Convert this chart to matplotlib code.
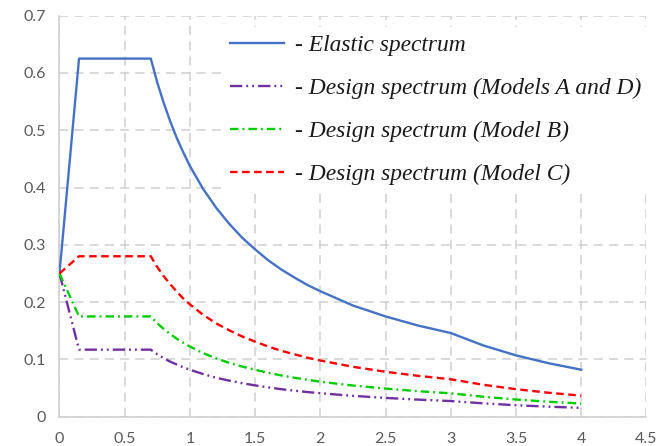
import matplotlib
matplotlib.use("Agg")
import matplotlib.pyplot as plt

# Period T (s)
T = [0.0, 0.15, 0.7, 0.75, 0.8, 0.85, 0.9, 0.95, 1.0, 1.1, 1.2, 1.3, 1.4,
     1.5, 1.6, 1.7, 1.8, 1.9, 2.0, 2.25, 2.5, 2.75, 3.0, 3.25, 3.5, 3.75, 4.0]

elastic = [0.25, 0.625, 0.625, 0.583, 0.547, 0.515, 0.486, 0.461, 0.4375,
           0.398, 0.365, 0.337, 0.3125, 0.292, 0.273, 0.257, 0.243, 0.230,
           0.219, 0.194, 0.175, 0.159, 0.146, 0.1243, 0.107, 0.0933, 0.082]
model_ad = [0.25, 0.117, 0.117, 0.109, 0.102, 0.096, 0.091, 0.086, 0.082,
            0.0745, 0.068, 0.063, 0.0585, 0.0546, 0.0512, 0.048, 0.0455,
            0.043, 0.041, 0.0364, 0.0328, 0.0298, 0.0273, 0.0233, 0.020,
            0.0175, 0.0154]
model_b = [0.25, 0.175, 0.175, 0.163, 0.153, 0.144, 0.136, 0.129, 0.1225,
           0.111, 0.102, 0.094, 0.0875, 0.082, 0.0766, 0.072, 0.068, 0.0645,
           0.061, 0.0544, 0.049, 0.0445, 0.0408, 0.0348, 0.030, 0.0261, 0.023]
model_c = [0.25, 0.28, 0.28, 0.261, 0.245, 0.231, 0.218, 0.206, 0.196,
           0.178, 0.163, 0.151, 0.140, 0.131, 0.1225, 0.115, 0.109, 0.103,
           0.098, 0.0871, 0.0784, 0.0713, 0.0653, 0.0557, 0.048, 0.0418,
           0.0367]

labels = ["- Elastic spectrum",
          "- Design spectrum (Models A and D)",
          "- Design spectrum (Model B)",
          "- Design spectrum (Model C)"]

x_ticks = [0, 0.5, 1, 1.5, 2, 2.5, 3, 3.5, 4, 4.5]
x_ticklabels = ["0", "0.5", "1", "1.5", "2", "2.5", "3", "3.5", "4", "4.5"]
y_ticks = [0, 0.1, 0.2, 0.3, 0.4, 0.5, 0.6, 0.7]
y_ticklabels = ["0", "0.1", "0.2", "0.3", "0.4", "0.5", "0.6", "0.7"]

fig = plt.figure(figsize=(6.72, 4.46), dpi=100)
ax = fig.add_axes([0.0885, 0.0657, 0.8735, 0.8993])

lw = 1.7
ax.plot(T, elastic, color="#4472C4", lw=lw, label=labels[0], zorder=3)
ax.plot(T, model_ad, color="#7030A0", lw=lw,
        linestyle=(0, (5.2, 1.7, 0.8, 1.7, 0.8, 1.7)), label=labels[1], zorder=3)
ax.plot(T, model_b, color="#00CC00", lw=lw,
        linestyle=(0, (3.6, 1.7, 0.8, 1.7)), label=labels[2], zorder=3)
ax.plot(T, model_c, color="#FF0000", lw=lw,
        linestyle=(0, (3.2, 1.9)), label=labels[3], zorder=3)

ax.set_xlim(0, 4.5)
ax.set_ylim(0, 0.7)
ax.set_xticks(x_ticks)
ax.set_xticklabels(x_ticklabels)
ax.set_yticks(y_ticks)
ax.set_yticklabels(y_ticklabels)

for lab in ax.get_xticklabels() + ax.get_yticklabels():
    lab.set_fontfamily(["Lato", "DejaVu Sans"])
    lab.set_fontsize(11.5)
    lab.set_color("#595959")
ax.tick_params(axis="x", length=0, pad=11)
ax.tick_params(axis="y", length=0, pad=10)

ax.grid(True, color="#D0D0D0", lw=1.1, linestyle=(0, (6, 4)), zorder=0)
ax.set_axisbelow(True)
for s in ["top", "right"]:
    ax.spines[s].set_visible(False)
for s in ["left", "bottom"]:
    ax.spines[s].set_color("#D0D0D0")
    ax.spines[s].set_linewidth(1.2)

leg = ax.legend(loc="upper left", bbox_to_anchor=(0.330, 0.94),
                bbox_transform=fig.transFigure,
                prop=dict(family=["Liberation Serif"], style="italic", size=16.9),
                frameon=True, fancybox=False, framealpha=1.0,
                facecolor="white", edgecolor="none",
                handlelength=2.3, handletextpad=0.45, labelspacing=0.92,
                borderpad=0.35, borderaxespad=0)
for t in leg.get_texts():
    t.set_color("#1a1a1a")
leg.set_zorder(5)

fig.savefig("out.png", dpi=100)
